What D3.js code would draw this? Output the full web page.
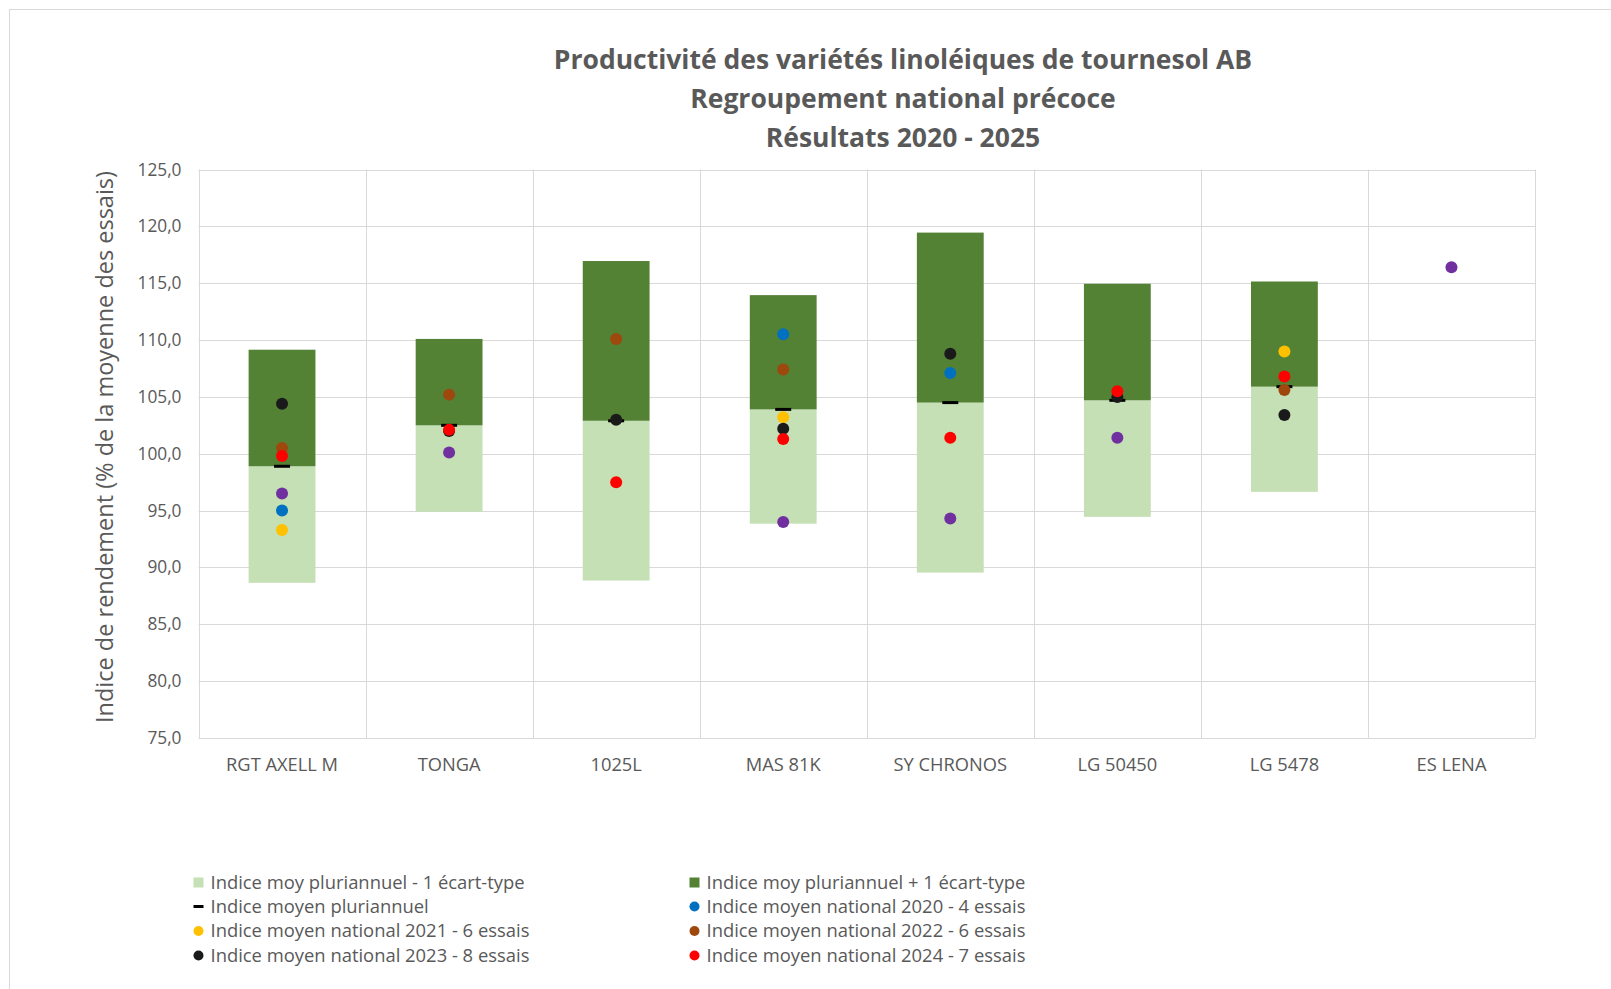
<!DOCTYPE html>
<html>
<head>
<meta charset="utf-8">
<script src="https://cdn.jsdelivr.net/npm/d3@7"></script>
<style>
  body { margin: 0; background: #fff; }
  svg { display: block; }
  text { font-family: "Open Sans", sans-serif; fill: #595959; }
</style>
</head>
<body>
<svg width="1611" height="989"></svg>
<script>
// varieties and yearly indices
const categories = ["RGT AXELL M", "TONGA", "1025L", "MAS 81K", "SY CHRONOS", "LG 50450", "LG 5478", "ES LENA"];
const meanPluri = [98.9, 102.5, 102.9, 103.9, 104.5, 104.7, 105.9, null];
const sdPluri = [10.25, 7.6, 14.05, 10.05, 14.95, 10.25, 9.25, null];
const idx2020 = [95.0, null, null, 110.5, 107.1, null, null, null];
const idx2021 = [93.3, null, null, 103.2, null, null, 109.0, null];
const idx2022 = [100.5, 105.2, 110.1, 107.4, null, null, 105.6, null];
const idx2023 = [104.4, 102.0, 103.0, 102.2, 108.8, 105.0, 103.4, null];
const idx2024 = [99.8, 102.1, 97.5, 101.3, 101.4, 105.5, 106.8, null];
const idx2025 = [96.5, 100.1, null, 94.0, 94.3, 101.4, null, 116.4];
const yTicks = [75, 80, 85, 90, 95, 100, 105, 110, 115, 120, 125];

const titleLines = ["Productivité des variétés linoléiques de tournesol AB", "Regroupement national précoce", "Résultats 2020 - 2025"];

const dotSeries = [
  { name: "Indice moyen national 2020 - 4 essais", values: idx2020, color: "#0070C0" },
  { name: "Indice moyen national 2021 - 6 essais", values: idx2021, color: "#FFC000" },
  { name: "Indice moyen national 2022 - 6 essais", values: idx2022, color: "#9E480E" },
  { name: "Indice moyen national 2023 - 8 essais", values: idx2023, color: "#1a1a1a" },
  { name: "Indice moyen national 2024 - 7 essais", values: idx2024, color: "#FF0000" },
  { name: null, values: idx2025, color: "#7030A0" }
];

const svg = d3.select("svg");

// outer chart frame
svg.append("rect")
  .attr("x", 9.5).attr("y", 9.5)
  .attr("width", 1650).attr("height", 1050)
  .attr("fill", "none").attr("stroke", "#d9d9d9");

const x = d3.scaleBand().domain(categories).range([198.5, 1535]);
const y = d3.scaleLinear().domain([75, 125]).range([738, 169.5]);
const barW = x.bandwidth() * 0.4;

// gridlines
svg.append("g").selectAll("line")
  .data(yTicks)
  .join("line")
  .attr("x1", 198.5).attr("x2", 1535)
  .attr("y1", d => Math.round(y(d)) + 0.5).attr("y2", d => Math.round(y(d)) + 0.5)
  .attr("stroke", "#d9d9d9");

svg.append("g").selectAll("line")
  .data(categories.concat([null]))
  .join("line")
  .attr("x1", (d, i) => Math.round(198.5 + i * x.step()) + 0.5)
  .attr("x2", (d, i) => Math.round(198.5 + i * x.step()) + 0.5)
  .attr("y1", y(125)).attr("y2", y(75))
  .attr("stroke", "#d9d9d9");

// y axis labels
const yAxis = svg.append("g")
  .attr("transform", "translate(198.5,0)")
  .call(d3.axisLeft(y).tickValues(yTicks).tickSize(0).tickPadding(17)
    .tickFormat(d => d3.format(".1f")(d).replace(".", ",")));
yAxis.select(".domain").remove();
yAxis.selectAll("text").style("font-size", "17.3px").attr("fill", "#595959");

// x axis labels
const xAxis = svg.append("g")
  .attr("transform", "translate(0,738)")
  .call(d3.axisBottom(x).tickSize(0).tickPadding(20));
xAxis.select(".domain").remove();
xAxis.selectAll("text").style("font-size", "18.3px").attr("fill", "#595959");

// stacked bars: mean - sd to mean, mean to mean + sd
const barData = categories.map((c, i) => ({ c, m: meanPluri[i], s: sdPluri[i] })).filter(d => d.m != null);

svg.append("g").selectAll("rect")
  .data(barData)
  .join("rect")
  .attr("x", d => x(d.c) + (x.bandwidth() - barW) / 2)
  .attr("width", barW)
  .attr("y", d => y(d.m))
  .attr("height", d => y(d.m - d.s) - y(d.m))
  .attr("fill", "#C5E0B4");

svg.append("g").selectAll("rect")
  .data(barData)
  .join("rect")
  .attr("x", d => x(d.c) + (x.bandwidth() - barW) / 2)
  .attr("width", barW)
  .attr("y", d => y(d.m + d.s))
  .attr("height", d => y(d.m) - y(d.m + d.s))
  .attr("fill", "#548235");

// mean marker
svg.append("g").selectAll("rect")
  .data(barData)
  .join("rect")
  .attr("x", d => x(d.c) + x.bandwidth() / 2 - 8)
  .attr("y", d => y(d.m) - 1.5)
  .attr("width", 16).attr("height", 3)
  .attr("fill", "#000");

// yearly dots
dotSeries.forEach(s => {
  svg.append("g").selectAll("circle")
    .data(categories.map((c, i) => ({ c, v: s.values[i] })).filter(d => d.v != null))
    .join("circle")
    .attr("cx", d => x(d.c) + x.bandwidth() / 2)
    .attr("cy", d => y(d.v))
    .attr("r", 6)
    .attr("fill", s.color);
});

// title
svg.append("g").selectAll("text")
  .data(titleLines)
  .join("text")
  .attr("x", 903)
  .attr("y", (d, i) => 69 + i * 39)
  .attr("text-anchor", "middle")
  .style("font-size", "26.5px")
  .style("font-weight", "bold")
  .text(d => d);

// y axis title
svg.append("text")
  .attr("transform", "translate(113,447) rotate(-90)")
  .attr("text-anchor", "middle")
  .style("font-size", "23.5px")
  .text("Indice de rendement (% de la moyenne des essais)");

// legend
const legendItems = [
  { name: "Indice moy pluriannuel - 1 écart-type", type: "square", color: "#C5E0B4" },
  { name: "Indice moy pluriannuel + 1 écart-type", type: "square", color: "#548235" },
  { name: "Indice moyen pluriannuel", type: "dash", color: "#000" }
].concat(dotSeries.filter(s => s.name).map(s => ({ name: s.name, type: "dot", color: s.color })));

const legendRows = [882.5, 906.5, 931, 955.5];
const legendCols = [198.5, 694.5];

const li = svg.append("g").selectAll("g")
  .data(legendItems)
  .join("g")
  .attr("transform", (d, i) => `translate(${legendCols[i % 2]},${legendRows[Math.floor(i / 2)]})`);

li.filter(d => d.type === "square").append("rect")
  .attr("x", -5).attr("y", -5).attr("width", 10).attr("height", 10)
  .attr("fill", d => d.color);
li.filter(d => d.type === "dash").append("rect")
  .attr("x", -5).attr("y", -1.5).attr("width", 10).attr("height", 3)
  .attr("fill", d => d.color);
li.filter(d => d.type === "dot").append("circle")
  .attr("r", 5).attr("fill", d => d.color);
li.append("text")
  .attr("x", 12).attr("dy", "0.35em")
  .style("font-size", "18.4px")
  .text(d => d.name);
</script>
</body>
</html>
